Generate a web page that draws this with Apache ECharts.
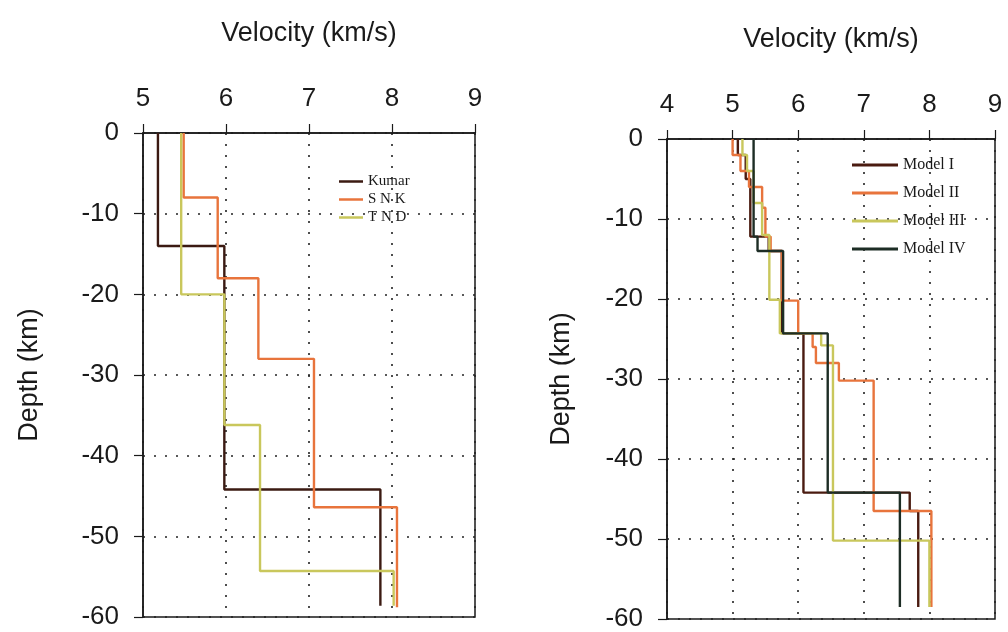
<!DOCTYPE html>
<html>
<head>
<meta charset="utf-8">
<script src="https://cdn.jsdelivr.net/npm/echarts@6/dist/echarts.min.js"></script>
<style>
  html, body { margin: 0; padding: 0; background: #fff; }
  #chart { width: 1008px; height: 632px; }
</style>
</head>
<body>
<div id="chart"></div>
<script>
// left panel: velocity of each layer, and layer boundaries (depth, km)
const kumarVel = [5.18, 5.98, 7.86]
const kumarBounds = [0, 14, 44.2, 58.6]
const snkVel = [5.49, 5.9, 6.39, 7.06, 8.06]
const snkBounds = [0, 8, 18, 28, 46.4, 58.8]
const tndVel = [5.46, 5.98, 6.41, 8.02]
const tndBounds = [0, 20, 36.2, 54.3, 58.6]

// right panel
const m1Vel = [5.08, 5.2, 5.27, 5.55, 5.75, 6.08, 7.7, 7.83]
const m1Bounds = [0, 2, 5, 12.2, 14, 24.3, 44.2, 46.5, 58.5]
const m2Vel = [5.0, 5.12, 5.25, 5.45, 5.5, 5.58, 5.75, 6.0, 6.22, 6.27, 6.62, 7.15, 8.03]
const m2Bounds = [0, 2, 4, 6, 8.6, 12.2, 14, 20.2, 24.3, 26, 28, 30.2, 46.5, 58.5]
const m3Vel = [5.15, 5.22, 5.32, 5.45, 5.56, 5.72, 6.35, 6.53, 8.0]
const m3Bounds = [0, 2, 4, 8, 12, 20.1, 24.3, 25.8, 50.2, 58.5]
const m4Vel = [5.32, 5.38, 5.77, 6.45, 7.55]
const m4Bounds = [0, 12.2, 14, 24.3, 44.2, 58.5]

const leftTicks = [5, 6, 7, 8, 9]
const rightTicks = [4, 5, 6, 7, 8, 9]
const depthTicks = [0, -10, -20, -30, -40, -50, -60]

// turn layers into a step profile [velocity, -depth]
const profile = (vel, bounds) => {
  const pts = []
  vel.forEach((v, i) => {
    pts.push([v, -bounds[i]])
    pts.push([v, -bounds[i + 1]])
  })
  return pts
}

const sans = 'Liberation Sans, Arial, sans-serif'
const serif = 'Liberation Serif, Times New Roman, serif'
const ink = '#1a1a1a'

const xAxisOf = (idx, ticks) => ({
  gridIndex: idx,
  type: 'value',
  position: 'top',
  min: ticks[0],
  max: ticks[ticks.length - 1],
  interval: 1,
  name: 'Velocity (km/s)',
  nameLocation: 'middle',
  nameGap: 86,
  nameTextStyle: { fontFamily: sans, fontSize: 27, color: ink },
  axisLine: { show: true, lineStyle: { color: ink, width: 1.5 } },
  axisTick: { show: true, length: 9, lineStyle: { color: ink, width: 1.2 } },
  axisLabel: { margin: 21, fontFamily: sans, fontSize: 26, color: ink },
  splitLine: { show: true, lineStyle: { color: '#222', type: [2, 9], width: 1.6 } },
})

const yAxisOf = (idx, gap) => ({
  gridIndex: idx,
  type: 'value',
  min: depthTicks[depthTicks.length - 1],
  max: depthTicks[0],
  interval: 10,
  name: 'Depth (km)',
  nameLocation: 'middle',
  nameGap: gap,
  nameTextStyle: { fontFamily: sans, fontSize: 27, color: ink },
  axisLine: { show: true, lineStyle: { color: ink, width: 1.5 } },
  axisTick: { show: true, length: 9, lineStyle: { color: ink, width: 1.2 } },
  axisLabel: { margin: 24, fontFamily: sans, fontSize: 26, color: ink },
  splitLine: { show: true, lineStyle: { color: '#222', type: [2, 9], width: 1.6 } },
})

const line = (name, data, color, xi) => ({
  name,
  type: 'line',
  xAxisIndex: xi,
  yAxisIndex: xi,
  data,
  symbol: 'none',
  animation: false,
  lineStyle: { color, width: 2.4 },
  itemStyle: { color },
})

const chart = echarts.init(document.getElementById('chart'))

chart.setOption({
  animation: false,
  backgroundColor: '#fff',
  grid: [
    { left: 143, top: 133, width: 332, height: 484, show: true, borderColor: ink, borderWidth: 1.5 },
    { left: 667, top: 139, width: 328, height: 483, show: true, borderColor: ink, borderWidth: 1.5 },
  ],
  xAxis: [xAxisOf(0, leftTicks), xAxisOf(1, rightTicks)],
  yAxis: [yAxisOf(0, 100), yAxisOf(1, 92)],
  legend: [
    {
      data: ['Kumar', 'S N K', 'T N D'],
      orient: 'vertical',
      left: 334,
      top: 169,
      icon: 'rect',
      itemWidth: 24,
      itemHeight: 2.5,
      itemGap: 3,
      textStyle: { fontFamily: serif, fontSize: 15, color: ink },
    },
    {
      data: ['Model I', 'Model II', 'Model III', 'Model IV'],
      orient: 'vertical',
      left: 847,
      top: 152,
      icon: 'rect',
      itemWidth: 46,
      itemHeight: 3,
      itemGap: 12,
      textStyle: { fontFamily: serif, fontSize: 16, color: ink },
    },
  ],
  series: [
    line('Kumar', profile(kumarVel, kumarBounds), '#3b1a12', 0),
    line('S N K', profile(snkVel, snkBounds), '#e8743c', 0),
    line('T N D', profile(tndVel, tndBounds), '#c9c75c', 0),
    line('Model I', profile(m1Vel, m1Bounds), '#4a1b10', 1),
    line('Model II', profile(m2Vel, m2Bounds), '#e8743c', 1),
    line('Model III', profile(m3Vel, m3Bounds), '#c9c75c', 1),
    line('Model IV', profile(m4Vel, m4Bounds), '#1d2d25', 1),
  ],
})
</script>
</body>
</html>
